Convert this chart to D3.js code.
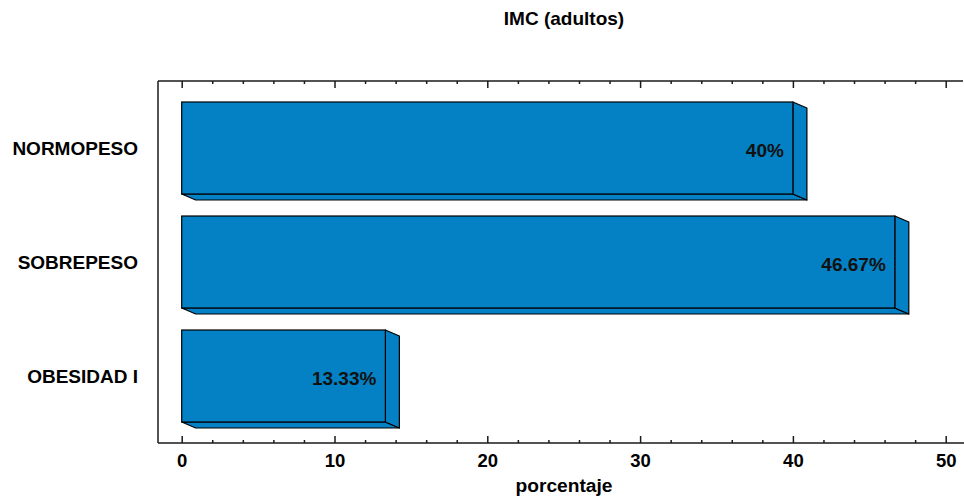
<!DOCTYPE html>
<html>
<head>
<meta charset="utf-8">
<script src="https://cdn.jsdelivr.net/npm/d3@7/dist/d3.min.js"></script>
<style>
  html, body { margin: 0; padding: 0; background: #fff; }
  svg { display: block; font-family: "Liberation Sans", Arial, sans-serif; }
</style>
</head>
<body>
<svg id="chart" width="964" height="500"></svg>
<script>
// Body-mass-index distribution among adults
const categories = ["NORMOPESO", "SOBREPESO", "OBESIDAD I"];
const values = [40, 46.67, 13.33];
const valueLabels = ["40%", "46.67%", "13.33%"];
const majorTicks = [0, 10, 20, 30, 40, 50];
const minorTicks = [2, 4, 6, 8, 12, 14, 16, 18, 22, 24, 26, 28, 32, 34, 36, 38, 42, 44, 46, 48];

const svg = d3.select("#chart");
const W = 964, H = 500;
const frame = { left: 158, right: 963, top: 81, bottom: 443 };
const depth = { dx: 14, dy: 6 };
const barColor = "#0381c4";

const x = d3.scaleLinear().domain([0, 50]).range([181.7, 945.7]);
const y = d3.scaleBand().domain(categories).range([91, 433])
  .paddingInner(0.193).paddingOuter(0.0965);

// Title
svg.append("text")
  .attr("x", 564).attr("y", 25)
  .attr("text-anchor", "middle")
  .attr("font-size", 19).attr("font-weight", "bold")
  .text("IMC (adultos)");

// Frame lines (left, top, bottom)
const lineCol = "#1a1a1a";
svg.append("line").attr("x1", frame.left).attr("x2", frame.left)
  .attr("y1", frame.top).attr("y2", frame.bottom)
  .attr("stroke", lineCol).attr("stroke-width", 1.5);
svg.append("line").attr("x1", frame.left).attr("x2", frame.right)
  .attr("y1", frame.top).attr("y2", frame.top)
  .attr("stroke", lineCol).attr("stroke-width", 1.5);
svg.append("line").attr("x1", frame.left).attr("x2", W)
  .attr("y1", frame.bottom).attr("y2", frame.bottom)
  .attr("stroke", lineCol).attr("stroke-width", 1.5);

// Bottom axis: major ticks with labels, pointing inward
const bottomMajor = svg.append("g")
  .attr("transform", `translate(0,${frame.bottom})`)
  .call(d3.axisBottom(x).tickValues(majorTicks).tickSize(-7).tickPadding(11).tickFormat(d3.format("d")));
const bottomMinor = svg.append("g")
  .attr("transform", `translate(0,${frame.bottom})`)
  .call(d3.axisBottom(x).tickValues(minorTicks).tickSize(-3).tickFormat(""));
// Top axis: tick marks only, pointing inward
const topMajor = svg.append("g")
  .attr("transform", `translate(0,${frame.top})`)
  .call(d3.axisTop(x).tickValues(majorTicks).tickSize(-7).tickFormat(""));
const topMinor = svg.append("g")
  .attr("transform", `translate(0,${frame.top})`)
  .call(d3.axisTop(x).tickValues(minorTicks).tickSize(-3).tickFormat(""));

[bottomMajor, bottomMinor, topMajor, topMinor].forEach(g => {
  g.select(".domain").remove();
  g.selectAll(".tick line").attr("stroke", lineCol).attr("stroke-width", 1.5);
});
bottomMajor.selectAll(".tick text")
  .attr("font-size", 18.5).attr("font-weight", "bold")
  .attr("font-family", "'Liberation Sans', Arial, sans-serif")
  .attr("fill", "#000");

// Axis title
svg.append("text")
  .attr("x", 564).attr("y", 492)
  .attr("text-anchor", "middle")
  .attr("font-size", 19.2).attr("font-weight", "bold")
  .text("porcentaje");

// Category labels
svg.append("g").selectAll("text")
  .data(categories)
  .join("text")
  .attr("x", 138)
  .attr("y", d => y(d) + y.bandwidth() / 2 + 6.5)
  .attr("text-anchor", "end")
  .attr("font-size", 19).attr("font-weight", "bold")
  .text(d => d);

// 3D bars: bottom face, right face, then front face
const bars = svg.append("g").selectAll("g")
  .data(categories.map((c, i) => ({ c, v: values[i], label: valueLabels[i] })))
  .join("g");

bars.append("path")
  .attr("d", d => {
    const x0 = x(0), x1 = x(d.v), yb = y(d.c) + y.bandwidth();
    return `M${x0},${yb} L${x1},${yb} L${x1 + depth.dx},${yb + depth.dy} L${x0 + depth.dx},${yb + depth.dy} Z`;
  })
  .attr("fill", barColor).attr("stroke", "#000").attr("stroke-width", 1.2)
  .attr("stroke-linejoin", "round");

bars.append("path")
  .attr("d", d => {
    const x1 = x(d.v), yt = y(d.c), yb = yt + y.bandwidth();
    return `M${x1},${yt} L${x1 + depth.dx},${yt + depth.dy} L${x1 + depth.dx},${yb + depth.dy} L${x1},${yb} Z`;
  })
  .attr("fill", barColor).attr("stroke", "#000").attr("stroke-width", 1.2)
  .attr("stroke-linejoin", "round");

bars.append("rect")
  .attr("x", x(0))
  .attr("y", d => y(d.c))
  .attr("width", d => x(d.v) - x(0))
  .attr("height", y.bandwidth())
  .attr("fill", barColor).attr("stroke", "#000").attr("stroke-width", 1.2);

// Value labels inside the bar ends
bars.append("text")
  .attr("x", d => x(d.v) - 9)
  .attr("y", d => y(d.c) + y.bandwidth() / 2 + 8.5)
  .attr("text-anchor", "end")
  .attr("font-size", 19).attr("font-weight", "bold")
  .attr("fill", "#111")
  .text(d => d.label);
</script>
</body>
</html>
